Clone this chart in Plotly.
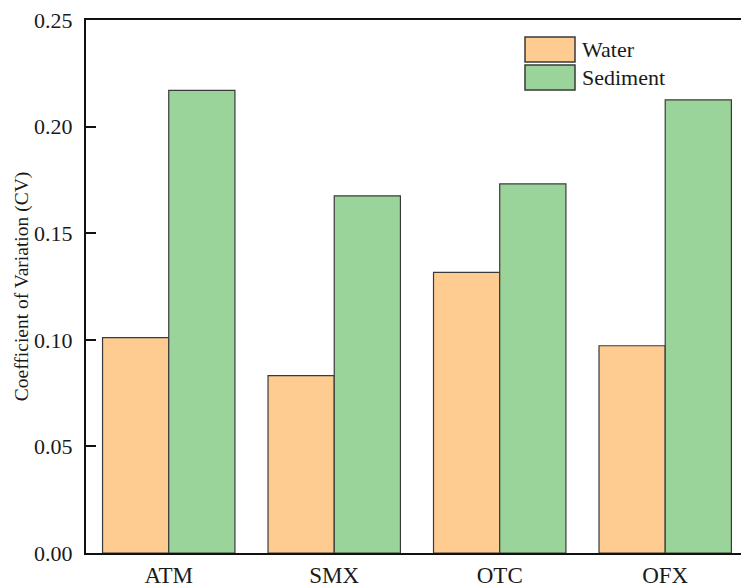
import plotly.graph_objects as go

# Coefficient of variation per antibiotic, water vs sediment
categories = ["ATM", "SMX", "OTC", "OFX"]
water_cv = [0.101, 0.0832, 0.1316, 0.0972]
sediment_cv = [0.217, 0.1675, 0.1731, 0.2125]
y_ticks = [0.00, 0.05, 0.10, 0.15, 0.20, 0.25]

WATER_COLOR = "#FECB91"
SEDIMENT_COLOR = "#9BD49A"
EDGE = "#3a3a3a"
FONT = "Liberation Serif, Times New Roman, serif"
TEXT = "#1a1a1a"

fig = go.Figure()
fig.add_trace(go.Bar(x=categories, y=water_cv, name="Water",
                     marker=dict(color=WATER_COLOR, line=dict(color=EDGE, width=1.2))))
fig.add_trace(go.Bar(x=categories, y=sediment_cv, name="Sediment",
                     marker=dict(color=SEDIMENT_COLOR, line=dict(color=EDGE, width=1.2))))

W, H = 741, 588
m_l, m_r, m_t, m_b = 86, 0, 20, 35
pw, ph = W - m_l - m_r, H - m_t - m_b


def px_to_paper(x, y):
    return (x - m_l) / pw, 1 - (y - m_t) / ph


# Legend drawn as large swatches with labels in the upper right
legend_items = [("Water", WATER_COLOR), ("Sediment", SEDIMENT_COLOR)]
sw_x0, sw_w, sw_h, sw_gap, sw_top = 525, 50, 25, 3, 37
shapes, annots = [], []
for i, (label, color) in enumerate(legend_items):
    top = sw_top + i * (sw_h + sw_gap)
    x0, y0 = px_to_paper(sw_x0, top + sw_h)
    x1, y1 = px_to_paper(sw_x0 + sw_w, top)
    shapes.append(dict(type="rect", xref="paper", yref="paper",
                       x0=x0, x1=x1, y0=y0, y1=y1,
                       fillcolor=color, line=dict(color=EDGE, width=1.5)))
    tx, ty = px_to_paper(sw_x0 + sw_w + 5, top + sw_h / 2)
    annots.append(dict(text=label, xref="paper", yref="paper", x=tx, y=ty,
                       xanchor="left", yanchor="middle", showarrow=False,
                       font=dict(family=FONT, size=22, color=TEXT)))

fig.update_layout(
    width=W, height=H,
    margin=dict(l=m_l, r=m_r, t=m_t, b=m_b),
    paper_bgcolor="white", plot_bgcolor="white",
    barmode="group", bargap=0.2, bargroupgap=0,
    showlegend=False,
    font=dict(family=FONT, size=22, color=TEXT),
    shapes=shapes, annotations=annots,
)
fig.update_xaxes(
    range=[-0.5, 3.458], showline=True, linecolor="#111", linewidth=2,
    mirror=True, ticks="", showgrid=False,
    tickfont=dict(family=FONT, size=23, color=TEXT),
)
fig.update_yaxes(
    range=[0, 0.25], tickvals=y_ticks, ticktext=[f"{v:.2f}" for v in y_ticks],
    showline=True, linecolor="#111", linewidth=2, mirror=False,
    ticks="inside", ticklen=10, tickwidth=2, tickcolor="#111",
    showgrid=False, zeroline=False, ticklabelstandoff=7,
    tickfont=dict(family=FONT, size=22, color=TEXT),
    title=dict(text="Coefficient of Variation (CV)", standoff=0,
               font=dict(family=FONT, size=19.5, color=TEXT)),
)

fig.write_html("out.html")
